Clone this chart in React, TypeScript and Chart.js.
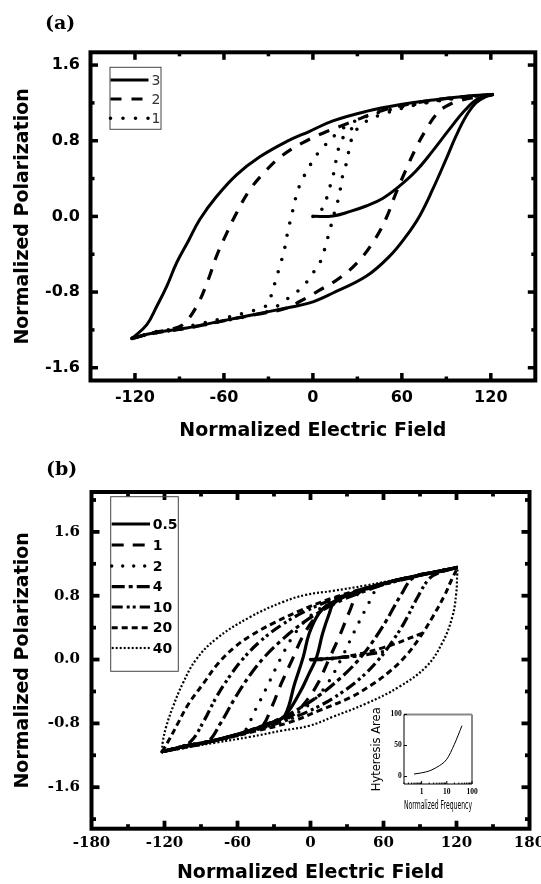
import React, { useEffect, useRef } from 'react';
import { Chart, registerables } from 'chart.js';

Chart.register(...registerables);

type Pt = [number, number];

// ================= Panel (a) =================
const aXTicks = [-120, -60, 0, 60, 120];
const aXMinor = [-90, -30, 30, 90];
const aYTicks = [-1.6, -0.8, 0, 0.8, 1.6];
const aYMinor = [-1.2, -0.4, 0.4, 1.2];

// loop "3" (solid)
const a3Init: Pt[] = [[0, 0], [13.5, 0.005], [24.7, 0.05], [35.9, 0.11], [47, 0.19], [58.3, 0.32], [69.5, 0.48], [80.7, 0.69], [92, 0.92], [103, 1.13], [112, 1.25], [122, 1.29]];
const a3Down: Pt[] = [[-122, -1.29], [-112, -1.145], [-105.3, -0.95], [-98.6, -0.74], [-91.9, -0.49], [-84, -0.26], [-76.2, -0.03], [-65, 0.21], [-51.5, 0.44], [-35.8, 0.63], [-17.9, 0.79], [-2.2, 0.9], [13.5, 1.01], [35.9, 1.11], [58.3, 1.18], [80.7, 1.23], [103, 1.27], [122, 1.29]];
const a3Up: Pt[] = [[-122, -1.29], [-107.6, -1.233], [-85.1, -1.18], [-62.7, -1.11], [-40.3, -1.04], [-17.9, -0.968], [-2.2, -0.915], [13.5, -0.81], [35.9, -0.634], [51.6, -0.423], [62.8, -0.211], [71.8, 0], [80.7, 0.282], [89.7, 0.6], [96.4, 0.846], [103.2, 1.057], [109.9, 1.199], [116, 1.26], [122, 1.29]];
// loop "2" (dashed)
const a2Down: Pt[] = [[-122, -1.29], [-107.6, -1.23], [-95, -1.19], [-87.4, -1.14], [-78.4, -0.95], [-70.6, -0.67], [-65, -0.42], [-58.2, -0.18], [-51.5, 0.035], [-42.6, 0.28], [-31.3, 0.49], [-20.2, 0.65], [-6.7, 0.78], [6.7, 0.88], [24.7, 0.99], [47, 1.12], [69.5, 1.2], [92, 1.25], [122, 1.29]];
const a2Up: Pt[] = [[-122, -1.29], [-107.6, -1.236], [-85, -1.182], [-63, -1.112], [-40, -1.042], [-18, -0.972], [-8.9, -0.9], [4.5, -0.78], [18, -0.652], [31, -0.47], [41.5, -0.25], [49.4, -0.02], [56, 0.247], [62.8, 0.494], [69.5, 0.723], [76.3, 0.917], [83, 1.075], [89.7, 1.163], [100, 1.23], [122, 1.29]];
// loop "1" (dotted)
const a1Init: Pt[] = [[0, 0], [4, 0.02], [6.7, 0.1], [10.1, 0.23], [12.4, 0.37], [14.6, 0.49], [15.9, 0.62], [18.2, 0.76], [22, 0.87], [28, 0.95]];
const a1Down: Pt[] = [[-122, -1.29], [-107.6, -1.225], [-96.4, -1.195], [-80.7, -1.15], [-62.7, -1.085], [-46, -1.02], [-38, -0.985], [-30.5, -0.93], [-27.5, -0.8], [-25, -0.67], [-22.4, -0.53], [-19.5, -0.37], [-16.8, -0.15], [-14.5, 0], [-11.2, 0.22], [-7.8, 0.37], [-3.6, 0.49], [1.1, 0.62], [8, 0.75], [15, 0.86], [22, 0.95], [35, 1.05], [58, 1.15], [80, 1.21], [103, 1.26], [122, 1.29]];
const a1Up: Pt[] = [[-122, -1.29], [-107.6, -1.237], [-85, -1.183], [-62.7, -1.113], [-40.3, -1.043], [-28, -0.99], [-20.2, -0.9], [-13.4, -0.83], [-5.6, -0.72], [0, -0.6], [5.6, -0.46], [9, -0.28], [11.2, -0.16], [13.5, -0.02], [15.7, 0.106], [18, 0.23], [19.1, 0.37], [21.3, 0.49], [23.5, 0.62], [24.7, 0.74], [28, 0.88], [33.6, 0.98], [45, 1.07], [70, 1.18], [95, 1.25], [122, 1.29]];

// ================= Panel (b) =================
const bXTicks = [-180, -120, -60, 0, 60, 120, 180];
const bXMinor = [-150, -90, -30, 30, 90, 150];
const bYTicks = [-1.6, -0.8, 0, 0.8, 1.6];
const bYMinor = [-2.0, -1.2, -0.4, 0.4, 1.2, 2.0];

const b05Down: Pt[] = [[-122, -1.155], [-105, -1.09], [-78, -1.01], [-50, -0.89], [-30, -0.78], [-21, -0.7], [-13, -0.3], [-6, 0.03], [-1, 0.33], [7, 0.58], [16, 0.7], [32, 0.82], [59, 0.95], [87, 1.05], [110, 1.12], [121, 1.155]];
const b05Up: Pt[] = [[-122, -1.155], [-105, -1.095], [-78, -1.015], [-50, -0.895], [-30, -0.785], [-21, -0.705], [-9, -0.42], [-1, -0.17], [5, 0.03], [10, 0.33], [15.5, 0.58], [19, 0.7], [32, 0.815], [59, 0.945], [87, 1.045], [110, 1.115], [121, 1.155]];
const b1Down: Pt[] = [[-122, -1.155], [-105, -1.09], [-78, -1.01], [-50, -0.89], [-40, -0.84], [-32, -0.6], [-24, -0.3], [-15, 0], [-6, 0.3], [5, 0.55], [15, 0.7], [26, 0.79], [40, 0.87], [59, 0.95], [87, 1.05], [110, 1.12], [121, 1.155]];
const b1Up: Pt[] = [[-122, -1.155], [-105, -1.09], [-78, -1.01], [-50, -0.89], [-28, -0.77], [-15, -0.7], [-5, -0.55], [6, -0.3], [15, 0], [24, 0.3], [32, 0.6], [40, 0.84], [59, 0.95], [87, 1.05], [110, 1.12], [121, 1.155]];
const b1Init: Pt[] = [[0, 0], [7, 0.0], [14, 0.0]];
const b2Down: Pt[] = [[-122, -1.155], [-105, -1.09], [-78, -1.01], [-56, -0.92], [-46, -0.65], [-36, -0.35], [-25, 0], [-14, 0.3], [-2, 0.52], [12, 0.68], [25, 0.78], [40, 0.86], [59, 0.95], [87, 1.05], [110, 1.12], [121, 1.155]];
const b2Up: Pt[] = [[-122, -1.155], [-105, -1.09], [-78, -1.01], [-59, -0.94], [-40, -0.86], [-25, -0.78], [-12, -0.68], [2, -0.52], [14, -0.3], [25, 0], [36, 0.35], [46, 0.65], [56, 0.91], [70, 0.99], [87, 1.05], [110, 1.12], [121, 1.155]];
const b2Init: Pt[] = [[0, 0], [10, 0.005], [20, 0.01], [25.5, 0.02]];
const b4Down: Pt[] = [[-122, -1.155], [-105, -1.09], [-85, -1.03], [-74, -0.8], [-62, -0.48], [-50, -0.2], [-38, 0.03], [-24, 0.24], [-8, 0.44], [10, 0.62], [28, 0.76], [45, 0.86], [62, 0.95], [87, 1.05], [110, 1.12], [121, 1.155]];
const b4Up: Pt[] = [[-122, -1.155], [-105, -1.09], [-87, -1.04], [-62, -0.95], [-45, -0.86], [-28, -0.76], [-10, -0.62], [8, -0.44], [24, -0.24], [38, -0.03], [50, 0.2], [62, 0.48], [74, 0.8], [85, 1.03], [105, 1.1], [121, 1.155]];
const b4Init: Pt[] = [[0, 0], [14, 0.01], [28, 0.03], [42, 0.05]];
const b10Down: Pt[] = [[-122, -1.155], [-108, -1.1], [-98, -1.02], [-88, -0.78], [-77, -0.46], [-66, -0.2], [-56, 0], [-42, 0.22], [-25, 0.42], [-5, 0.6], [18, 0.75], [45, 0.88], [73, 0.99], [100, 1.09], [121, 1.155]];
const b10Up: Pt[] = [[-122, -1.155], [-100, -1.09], [-73, -0.99], [-45, -0.88], [-18, -0.75], [5, -0.6], [25, -0.42], [42, -0.22], [56, 0], [66, 0.2], [77, 0.46], [88, 0.78], [98, 1.02], [108, 1.1], [121, 1.155]];
const b10Init: Pt[] = [[0, 0], [20, 0.02], [40, 0.05], [61, 0.1]];
const b20Down: Pt[] = [[-122, -1.155], [-116, -1.0], [-109, -0.8], [-100, -0.55], [-88, -0.3], [-76, -0.05], [-62, 0.16], [-48, 0.31], [-30, 0.46], [-9, 0.61], [18, 0.77], [46, 0.9], [73, 1.0], [100, 1.09], [121, 1.155]];
const b20Up: Pt[] = [[-122, -1.155], [-100, -1.09], [-73, -1.0], [-46, -0.9], [-18, -0.79], [7, -0.64], [32, -0.48], [50, -0.32], [65, -0.15], [78, 0.04], [90, 0.28], [101, 0.55], [110, 0.8], [116, 1.0], [121, 1.155]];
const b20Init: Pt[] = [[0, 0], [26, 0.03], [60, 0.15], [92, 0.33]];
const b40Down: Pt[] = [[-122, -1.155], [-121.4, -1.03], [-118.6, -0.84], [-113, -0.59], [-105, -0.3], [-94, 0], [-77.5, 0.26], [-50, 0.53], [-23, 0.72], [-4, 0.81], [18, 0.86], [46, 0.93], [73, 1.01], [100, 1.09], [121, 1.155]];
const b40Up: Pt[] = [[-122, -1.155], [-105, -1.11], [-77.5, -1.04], [-50, -0.97], [-23, -0.89], [-1, -0.83], [18, -0.72], [46, -0.55], [73, -0.34], [95, -0.09], [108, 0.2], [116.5, 0.53], [119.8, 0.83], [120.6, 1.07], [121, 1.155]];

// ================= Inset =================
const insetFreq = [0.5, 1, 2, 4, 10, 20, 40];
const insetArea = [4, 6, 9, 15, 28, 52, 82];
const insetXTicks = [1, 10, 100];
const insetXMinor = [0.2, 0.3, 0.4, 0.5, 0.6, 0.7, 0.8, 0.9, 2, 3, 4, 5, 6, 7, 8, 9, 20, 30, 40, 50, 60, 70, 80, 90];
const insetYTicks = [0, 50, 100];

// ================= styles =================
const SANS = '"DejaVu Sans", sans-serif';
const SERIF = '"DejaVu Serif", serif';

type Style = { w: number; dash: number[]; cap?: string };
const sA3: Style = { w: 3, dash: [] };
const sA2: Style = { w: 3.2, dash: [11, 10] };
const sA1: Style = { w: 3.6, dash: [0, 12.5], cap: 'round' };

const sB05: Style = { w: 3.2, dash: [] };
const sB1: Style = { w: 3.2, dash: [12, 9] };
const sB2: Style = { w: 3.4, dash: [0, 11], cap: 'round' };
const sB4: Style = { w: 3.2, dash: [13, 4, 4, 4] };
const sB10: Style = { w: 3.2, dash: [11, 4, 3, 3, 3, 4] };
const sB20: Style = { w: 3, dash: [6, 4] };
const sB40: Style = { w: 2.2, dash: [2, 2] };

function ds(pts: Pt[], s: Style, legendText?: string) {
  return {
    data: pts.map(([x, y]) => ({ x, y })),
    showLine: true,
    pointRadius: 0,
    pointHoverRadius: 0,
    borderColor: '#000',
    backgroundColor: '#000',
    borderWidth: s.w,
    borderDash: s.dash,
    borderCapStyle: s.cap || 'butt',
    borderJoinStyle: 'round',
    tension: 0.4,
    fill: false,
    legendText,
  };
}

const seg = (ctx: CanvasRenderingContext2D, x1: number, y1: number, x2: number, y2: number) => {
  ctx.beginPath();
  ctx.moveTo(x1, y1);
  ctx.lineTo(x2, y2);
  ctx.stroke();
};

const framePlugin = {
  id: 'frame',
  afterDatasetsDraw(chart: any, _args: any, o: any) {
    const { ctx, chartArea: a } = chart;
    const sx = chart.scales.x;
    const sy = chart.scales.y;
    ctx.save();
    ctx.strokeStyle = '#000';
    ctx.setLineDash([]);
    ctx.lineCap = 'butt';
    ctx.lineWidth = o.tickWidth;
    const xt = (vals: number[], len: number) =>
      vals.forEach((v) => {
        const p = sx.getPixelForValue(v);
        if (p <= a.left + 1 || p >= a.right - 1) return;
        seg(ctx, p, a.bottom, p, a.bottom - len);
        seg(ctx, p, a.top, p, a.top + len);
      });
    const yt = (vals: number[], len: number) =>
      vals.forEach((v) => {
        const p = sy.getPixelForValue(v);
        if (p <= a.top + 1 || p >= a.bottom - 1) return;
        seg(ctx, a.left, p, a.left + len, p);
        seg(ctx, a.right, p, a.right - len, p);
      });
    xt(o.xMajor, o.majorLen);
    xt(o.xMinor, o.minorLen);
    yt(o.yMajor, o.majorLen);
    yt(o.yMinor, o.minorLen);
    ctx.lineWidth = o.frameWidth;
    ctx.strokeRect(a.left, a.top, a.right - a.left, a.bottom - a.top);

    const L = o.legend;
    ctx.lineWidth = 1;
    ctx.strokeStyle = '#444';
    ctx.strokeRect(L.box[0], L.box[1], L.box[2] - L.box[0], L.box[3] - L.box[1]);
    const items = chart.data.datasets.filter((d: any) => d.legendText);
    ctx.font = L.font;
    ctx.fillStyle = L.color;
    ctx.textBaseline = 'middle';
    ctx.textAlign = 'left';
    items.forEach((d: any, i: number) => {
      const y = L.rows[i];
      ctx.save();
      ctx.strokeStyle = d.borderColor;
      ctx.lineWidth = d.borderWidth;
      ctx.lineCap = d.borderCapStyle;
      ctx.setLineDash(d.borderDash || []);
      seg(ctx, L.x0, y, L.x1, y);
      ctx.restore();
      ctx.fillText(d.legendText, L.textX, y + 1);
    });
    ctx.restore();
  },
};

function panelConfig(p: any) {
  return {
    type: 'scatter',
    data: { datasets: p.datasets },
    options: {
      animation: false,
      responsive: false,
      devicePixelRatio: 1,
      events: [],
      layout: { padding: p.padding },
      plugins: {
        legend: { display: false },
        tooltip: { enabled: false },
        frame: p.frame,
      },
      scales: {
        x: {
          type: 'linear',
          min: p.xMin,
          max: p.xMax,
          grid: { display: false, drawTicks: false },
          border: { display: false },
          afterBuildTicks: (s: any) => {
            s.ticks = p.xTicks.map((v: number) => ({ value: v }));
          },
          afterFit: (s: any) => {
            s.height = p.xAxisH;
            s.paddingLeft = 0;
            s.paddingRight = 0;
          },
          ticks: {
            autoSkip: false,
            maxRotation: 0,
            minRotation: 0,
            padding: p.xTickPad,
            color: '#000',
            font: p.tickFont,
            callback: (v: number) => String(v),
          },
          title: {
            display: true,
            text: 'Normalized Electric Field',
            color: '#000',
            font: { family: SANS, size: 19, weight: 'bold', lineHeight: 1.2 },
            padding: 0,
          },
        },
        y: {
          type: 'linear',
          min: p.yMin,
          max: p.yMax,
          grid: { display: false, drawTicks: false },
          border: { display: false },
          afterBuildTicks: (s: any) => {
            s.ticks = p.yTicks.map((v: number) => ({ value: v }));
          },
          afterFit: (s: any) => {
            s.width = p.yAxisW;
            s.paddingTop = 0;
            s.paddingBottom = 0;
          },
          ticks: {
            autoSkip: false,
            padding: p.yTickPad,
            color: '#000',
            font: p.tickFont,
            callback: (v: number) => v.toFixed(1),
          },
          title: {
            display: true,
            text: 'Normalized Polarization',
            color: '#000',
            font: { family: SANS, size: 19, weight: 'bold', lineHeight: 1.2 },
            padding: 0,
          },
        },
      },
    },
    plugins: [framePlugin],
  };
}

function configA() {
  return panelConfig({
    datasets: [
      ds(a3Down, sA3, '3'),
      ds(a3Up, sA3),
      ds(a3Init, sA3),
      ds(a2Down, sA2, '2'),
      ds(a2Up, sA2),
      ds(a1Down, sA1, '1'),
      ds(a1Up, sA1),
      ds(a1Init, sA1),
    ],
    padding: { left: 11.5, top: 52.3, right: 5.7, bottom: 0 },
    xMin: -150,
    xMax: 150,
    yMin: -1.735,
    yMax: 1.735,
    xTicks: aXTicks,
    yTicks: aYTicks,
    xAxisH: 61.5,
    yAxisW: 79,
    xTickPad: 8,
    yTickPad: 10.5,
    tickFont: { family: SANS, size: 16, weight: 'bold', lineHeight: 1.2 },
    frame: {
      frameWidth: 4,
      tickWidth: 3.5,
      majorLen: 7.5,
      minorLen: 4,
      xMajor: aXTicks,
      xMinor: aXMinor,
      yMajor: aYTicks,
      yMinor: aYMinor,
      legend: {
        box: [110, 67.3, 161, 129.3],
        x0: 110.5,
        x1: 148.5,
        rows: [80, 99, 118.3],
        textX: 151.5,
        font: `14px ${SANS}`,
        color: '#333',
      },
    },
  });
}

function configB() {
  return panelConfig({
    datasets: [
      ds(b05Down, sB05, '0.5'),
      ds(b05Up, sB05),
      ds(b1Down, sB1, '1'),
      ds(b1Up, sB1),
      ds(b1Init, sB1),
      ds(b2Down, sB2, '2'),
      ds(b2Up, sB2),
      ds(b2Init, sB2),
      ds(b4Down, sB4, '4'),
      ds(b4Up, sB4),
      ds(b4Init, sB4),
      ds(b10Down, sB10, '10'),
      ds(b10Up, sB10),
      ds(b10Init, sB10),
      ds(b20Down, sB20, '20'),
      ds(b20Up, sB20),
      ds(b20Init, sB20),
      ds(b40Down, sB40, '40'),
      ds(b40Up, sB40),
    ],
    padding: { left: 11.5, top: 50, right: 11.5, bottom: 0 },
    xMin: -180,
    xMax: 180,
    yMin: -2.12,
    yMax: 2.1,
    xTicks: bXTicks,
    yTicks: bYTicks,
    xAxisH: 55.3,
    yAxisW: 80,
    xTickPad: 5,
    yTickPad: 11.5,
    tickFont: { family: SERIF, size: 15, weight: 'bold', lineHeight: 1.2 },
    frame: {
      frameWidth: 4,
      tickWidth: 3.8,
      majorLen: 8,
      minorLen: 4.5,
      xMajor: bXTicks,
      xMinor: bXMinor,
      yMajor: bYTicks,
      yMinor: bYMinor,
      legend: {
        box: [110.7, 54.7, 178.3, 229.3],
        x0: 111.7,
        x1: 150,
        rows: [82, 103, 124, 144.7, 165, 185.7, 206],
        textX: 152.7,
        font: `bold 14px ${SANS}`,
        color: '#000',
      },
    },
  });
}

const insetFramePlugin = {
  id: 'insetFrame',
  afterDatasetsDraw(chart: any) {
    const { ctx, chartArea: a } = chart;
    const sx = chart.scales.x;
    const sy = chart.scales.y;
    ctx.save();
    ctx.setLineDash([]);
    ctx.strokeStyle = '#888';
    ctx.lineWidth = 2;
    seg(ctx, a.left, a.top, a.right, a.top);
    seg(ctx, a.right, a.top, a.right, a.bottom);
    ctx.strokeStyle = '#000';
    ctx.lineWidth = 1;
    seg(ctx, a.left, a.top, a.left, a.bottom);
    seg(ctx, a.left, a.bottom, a.right, a.bottom);
    insetXTicks.forEach((v) => {
      const p = sx.getPixelForValue(v);
      seg(ctx, p, a.bottom, p, a.bottom - 3);
    });
    insetXMinor.forEach((v) => {
      const p = sx.getPixelForValue(v);
      seg(ctx, p, a.bottom, p, a.bottom - 1.5);
    });
    insetYTicks.forEach((v) => {
      const p = sy.getPixelForValue(v);
      seg(ctx, a.left, p, a.left + 3, p);
    });
    ctx.restore();
  },
};

function configInset() {
  return {
    type: 'scatter',
    data: {
      datasets: [
        {
          data: insetFreq.map((f, i) => ({ x: f, y: insetArea[i] })),
          showLine: true,
          pointRadius: 0,
          borderColor: '#000',
          borderWidth: 1,
          cubicInterpolationMode: 'monotone',
          fill: false,
        },
      ],
    },
    options: {
      animation: false,
      responsive: false,
      devicePixelRatio: 1,
      events: [],
      layout: { padding: { left: 5, top: 14.5, right: 69, bottom: 0 } },
      plugins: { legend: { display: false }, tooltip: { enabled: false } },
      scales: {
        x: {
          type: 'logarithmic',
          min: 0.2,
          max: 100,
          grid: { display: false, drawTicks: false },
          border: { display: false },
          afterBuildTicks: (s: any) => {
            s.ticks = insetXTicks.map((v) => ({ value: v }));
          },
          afterFit: (s: any) => {
            s.height = 29;
            s.paddingLeft = 0;
            s.paddingRight = 0;
          },
          ticks: {
            autoSkip: false,
            maxRotation: 0,
            minRotation: 0,
            padding: 3.8,
            color: '#000',
            font: { family: '"Liberation Serif", serif', size: 7.5, weight: 'bold', lineHeight: 1.2 },
            callback: (v: number) => String(v),
          },
          title: {
            display: true,
            text: 'Normalized Frequency',
            color: '#000',
            font: { family: SANS, size: 11.5, lineHeight: 1.2 },
            padding: 0,
          },
        },
        y: {
          type: 'linear',
          min: -12,
          max: 100,
          grid: { display: false, drawTicks: false },
          border: { display: false },
          afterBuildTicks: (s: any) => {
            s.ticks = insetYTicks.map((v) => ({ value: v }));
          },
          afterFit: (s: any) => {
            s.width = 34;
            s.paddingTop = 0;
            s.paddingBottom = 0;
          },
          ticks: {
            autoSkip: false,
            padding: 2.3,
            color: '#000',
            font: { family: '"Liberation Serif", serif', size: 7.5, weight: 'bold', lineHeight: 1.2 },
            callback: (v: number) => String(v),
          },
          title: {
            display: true,
            text: 'Hyteresis Area',
            color: '#000',
            font: { family: SANS, size: 11.5, lineHeight: 1.2 },
            padding: 0,
          },
        },
      },
    },
    plugins: [insetFramePlugin],
  };
}

const panelLabel = (left: number, top: number): React.CSSProperties => ({
  position: 'absolute',
  left,
  top,
  font: `bold 19px ${SERIF}`,
  lineHeight: '20px',
  color: '#000',
  whiteSpace: 'nowrap',
});

export default function App() {
  const aRef = useRef<HTMLCanvasElement>(null);
  const bRef = useRef<HTMLCanvasElement>(null);
  const iRef = useRef<HTMLCanvasElement>(null);
  useEffect(() => {
    const charts = [
      new Chart(aRef.current as HTMLCanvasElement, configA() as any),
      new Chart(bRef.current as HTMLCanvasElement, configB() as any),
      new Chart(iRef.current as HTMLCanvasElement, configInset() as any),
    ];
    return () => charts.forEach((c) => c.destroy());
  }, []);
  return (
    <div style={{ position: 'absolute', left: 0, top: 0, width: 541, height: 884, background: '#fff', overflow: 'hidden' }}>
      <canvas ref={aRef} width={541} height={442} style={{ position: 'absolute', left: 0, top: 0, width: 541, height: 442 }} />
      <canvas ref={bRef} width={541} height={442} style={{ position: 'absolute', left: 0, top: 442, width: 541, height: 442 }} />
      <canvas ref={iRef} width={176} height={113} style={{ position: 'absolute', left: 365, top: 700, width: 176, height: 113 }} />
      <div style={panelLabel(45, 12)}>(a)</div>
      <div style={panelLabel(46, 458)}>(b)</div>
    </div>
  );
}
